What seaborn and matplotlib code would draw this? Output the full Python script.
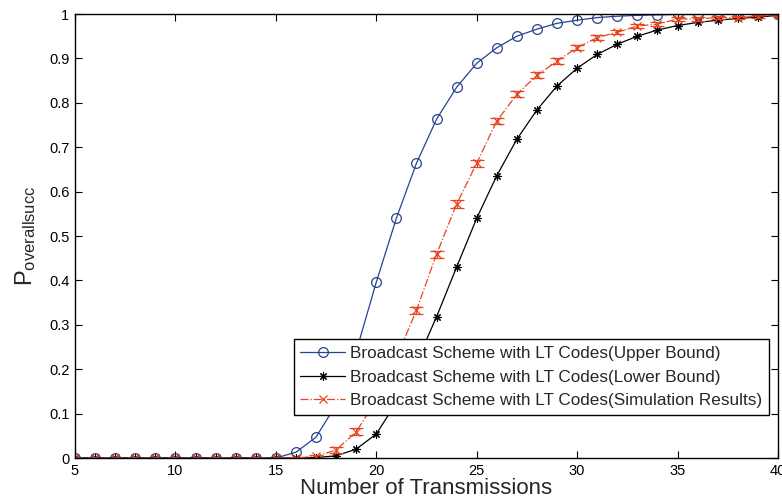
import numpy as np
import pandas as pd
import matplotlib
matplotlib.use("Agg")
import matplotlib.pyplot as plt
from matplotlib.lines import Line2D
import seaborn as sns

# Number of transmissions
transmissions = list(range(5, 41))

# Upper bound of the overall success probability
upper_bound = [0, 0, 0, 0, 0, 0, 0, 0, 0, 0, 0,
               0.013, 0.047, 0.120, 0.240, 0.396, 0.540, 0.664, 0.763, 0.835,
               0.889, 0.924, 0.950, 0.966, 0.979, 0.986, 0.992, 0.995, 0.997,
               0.998, 0.999, 0.999, 1.0, 1.0, 1.0, 1.0]

# Lower bound of the overall success probability
lower_bound = [0, 0, 0, 0, 0, 0, 0, 0, 0, 0, 0,
               0, 0.001, 0.005, 0.020, 0.054, 0.125, 0.215, 0.318, 0.430,
               0.540, 0.636, 0.718, 0.784, 0.838, 0.878, 0.909, 0.932, 0.950,
               0.964, 0.974, 0.981, 0.986, 0.990, 0.993, 0.997]

# Simulated overall success probability and its error half-width
simulation = [0, 0, 0, 0, 0, 0, 0, 0, 0, 0, 0,
              0, 0.004, 0.018, 0.059, 0.130, 0.225, 0.333, 0.459, 0.572,
              0.664, 0.759, 0.819, 0.862, 0.894, 0.924, 0.947, 0.959, 0.973,
              0.977, 0.989, 0.989, 0.992, 0.992, 0.995, 0.998]
sim_error = [0, 0, 0, 0, 0, 0, 0, 0, 0, 0, 0,
             0.001, 0.003, 0.006, 0.008, 0.008, 0.008, 0.008, 0.008, 0.008,
             0.008, 0.007, 0.007, 0.007, 0.006, 0.006, 0.005, 0.005, 0.005,
             0.004, 0.004, 0.004, 0.003, 0.003, 0.003, 0.002]

labels = ["Broadcast Scheme with LT Codes(Upper Bound)",
          "Broadcast Scheme with LT Codes(Lower Bound)",
          "Broadcast Scheme with LT Codes(Simulation Results)"]

blue = "#27428f"
red = "#e8441f"

sns.set_theme(style="white")
plt.rcParams["font.family"] = ["Liberation Sans", "DejaVu Sans"]
plt.rcParams["mathtext.default"] = "regular"

fig = plt.figure(figsize=(7.82, 5.0), dpi=100)
ax = fig.add_axes([0.0959, 0.084, 0.8990, 0.888])

df = pd.DataFrame({"n": transmissions, "upper": upper_bound,
                   "lower": lower_bound, "sim": simulation, "err": sim_error})

sns.lineplot(data=df, x="n", y="upper", ax=ax, color=blue, lw=0.9,
             marker="o", markersize=7, markerfacecolor="none",
             markeredgecolor=blue, markeredgewidth=0.9, legend=False)
sns.lineplot(data=df, x="n", y="lower", ax=ax, color="black", lw=0.9,
             marker=(8, 2, 0), markersize=6, markeredgecolor="black",
             markeredgewidth=0.8, legend=False)
ax.errorbar(df["n"], df["sim"], yerr=df["err"], color=red, lw=0.9,
            ls="-.", marker="x", markersize=6, markeredgewidth=0.9,
            capsize=5, elinewidth=0.9, capthick=1.2)

ax.set_xlim(5, 40)
ax.set_ylim(0, 1)
ax.set_xticks(range(5, 41, 5))
ax.set_yticks(np.arange(0, 1.01, 0.1))
ax.set_yticklabels(["0", "0.1", "0.2", "0.3", "0.4", "0.5", "0.6", "0.7",
                    "0.8", "0.9", "1"])
ax.tick_params(direction="in", length=5, width=0.8, labelsize=10.5,
               top=True, right=True, bottom=True, left=True, pad=4,
               colors="black")
for side in ax.spines.values():
    side.set_color("black")
    side.set_linewidth(1.0)

ax.set_xlabel("Number of Transmissions", fontsize=16, labelpad=0)
ax.set_ylabel("$P_{overallsucc}$", fontsize=17, labelpad=8)

handles = [
    Line2D([], [], color=blue, lw=0.9, marker="o", markersize=7,
           markerfacecolor="none", markeredgecolor=blue, markeredgewidth=0.9),
    Line2D([], [], color="black", lw=0.9, marker=(8, 2, 0), markersize=6,
           markeredgewidth=0.8),
    Line2D([], [], color=red, lw=0.9, ls="-.", marker="x", markersize=6,
           markeredgewidth=0.9),
]
leg = ax.legend(handles, labels, loc="lower right",
                bbox_to_anchor=(0.987, 0.097),
                fontsize=12.3, frameon=True, fancybox=False, framealpha=1,
                edgecolor="black", borderpad=0.4, labelspacing=0.5,
                handlelength=2.6, handletextpad=0.3, borderaxespad=0)
leg.get_frame().set_linewidth(1.0)

fig.savefig("out.png", dpi=100)
